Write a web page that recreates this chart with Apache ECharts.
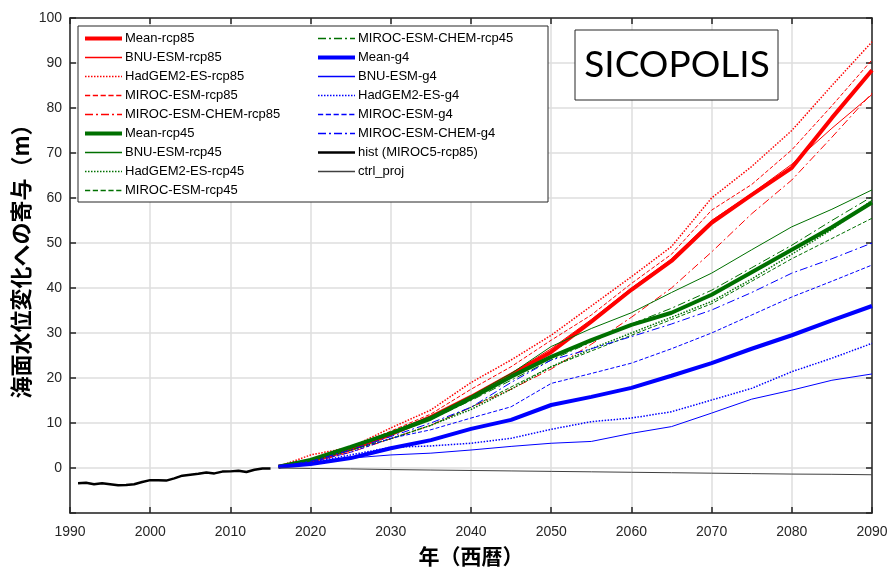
<!DOCTYPE html>
<html lang="ja">
<head>
<meta charset="UTF-8">
<title>SICOPOLIS</title>
<style>
  html, body { margin: 0; padding: 0; background: #fff; }
  #main { width: 890px; height: 567px; }
</style>
</head>
<body>
<div id="main"></div>
<script src="https://cdn.jsdelivr.net/npm/echarts@6/dist/echarts.min.js"></script>
<script>
// years for the projection runs
var futureYears = [2016, 2020, 2025, 2030, 2035, 2040, 2045, 2050, 2055, 2060, 2065, 2070, 2075, 2080, 2085, 2090];

// rcp85
var meanRcp85   = [0.3, 1.5, 4.2, 7.5, 11.3, 15.8, 20.7, 25.8, 32.5, 39.6, 46.0, 54.5, 60.7, 66.7, 77.8, 88.4];
var bnuRcp85    = [0.3, 1.5, 4.0, 7.4, 11.0, 16.0, 21.0, 26.5, 33.0, 40.0, 46.5, 55.0, 61.0, 67.5, 75.5, 83.0];
var hadRcp85    = [0.3, 2.9, 4.6, 8.9, 12.9, 19.0, 24.0, 29.5, 36.0, 42.5, 49.2, 60.0, 67.0, 75.0, 85.0, 94.7];
var mirocRcp85  = [0.3, 2.0, 4.5, 8.2, 12.0, 17.5, 22.5, 28.4, 34.0, 41.0, 47.5, 57.3, 63.0, 70.7, 80.5, 90.7];
var chemRcp85   = [0.3, 1.2, 3.5, 6.5, 9.5, 13.5, 17.5, 22.0, 27.5, 33.5, 40.0, 48.0, 56.5, 64.0, 73.5, 83.3];
// rcp45
var meanRcp45   = [0.3, 1.8, 4.7, 7.7, 11.0, 15.5, 20.3, 24.7, 28.4, 31.8, 34.5, 38.5, 43.5, 48.5, 53.5, 59.0];
var bnuRcp45    = [0.3, 1.8, 4.8, 8.0, 11.5, 16.0, 21.0, 27.0, 31.0, 34.5, 39.0, 43.3, 48.5, 53.6, 57.5, 61.8];
var hadRcp45    = [0.3, 1.5, 4.0, 6.5, 9.5, 13.0, 17.5, 22.5, 26.5, 30.0, 33.5, 37.0, 42.0, 47.5, 53.0, 59.5];
var mirocRcp45  = [0.3, 1.5, 4.0, 6.5, 9.5, 13.5, 18.0, 22.5, 26.0, 29.5, 33.0, 36.5, 41.5, 46.5, 51.0, 55.5];
var chemRcp45   = [0.3, 1.7, 4.5, 7.5, 10.8, 15.0, 19.5, 24.0, 28.0, 32.0, 35.5, 39.5, 44.5, 49.5, 55.0, 60.3];
// g4
var meanG4      = [0.3, 0.9, 2.2, 4.4, 6.2, 8.7, 10.7, 14.0, 15.8, 17.8, 20.5, 23.3, 26.5, 29.5, 32.8, 36.0];
var bnuG4       = [0.3, 0.9, 2.2, 2.9, 3.3, 4.0, 4.8, 5.5, 5.9, 7.7, 9.2, 12.2, 15.3, 17.3, 19.5, 20.9];
var hadG4       = [0.3, 1.2, 2.9, 4.6, 4.9, 5.5, 6.6, 8.6, 10.3, 11.1, 12.5, 15.1, 17.7, 21.4, 24.4, 27.7];
var mirocG4     = [0.3, 1.3, 3.5, 6.6, 8.5, 11.1, 13.6, 18.8, 21.0, 23.3, 26.5, 30.0, 34.0, 38.0, 41.5, 45.1];
var chemG4      = [0.3, 1.5, 4.0, 7.0, 10.0, 13.5, 19.0, 24.0, 26.5, 29.2, 32.0, 35.1, 39.0, 43.3, 46.5, 50.0];
// control run
var ctrlProj    = [0, -0.1, -0.2, -0.35, -0.45, -0.55, -0.65, -0.75, -0.85, -0.95, -1.05, -1.15, -1.25, -1.35, -1.4, -1.5];

// historical run
var histYears = [1991, 1992, 1993, 1994, 1995, 1996, 1997, 1998, 1999, 2000, 2001, 2002, 2003,
                 2004, 2005, 2006, 2007, 2008, 2009, 2010, 2011, 2012, 2013, 2014, 2015];
var histVals  = [-3.4, -3.3, -3.6, -3.4, -3.6, -3.85, -3.8, -3.6, -3.1, -2.7, -2.7, -2.8, -2.3,
                 -1.7, -1.5, -1.3, -1.0, -1.2, -0.8, -0.75, -0.6, -0.9, -0.4, -0.1, -0.1];

var yTicks = [0, 10, 20, 30, 40, 50, 60, 70, 80, 90, 100];

var RED = '#ff0000', GREEN = '#007000', BLUE = '#0000ff';
var dashDot = [8, 3, 2, 3];

function pairs(xs, ys) {
  return xs.map(function (x, i) { return [x, ys[i]]; });
}

function line(name, vals, color, width, type, xs) {
  return {
    name: name,
    type: 'line',
    symbol: 'none',
    animation: false,
    data: pairs(xs || futureYears, vals),
    lineStyle: { color: color, width: width, type: type || 'solid' },
    itemStyle: { color: color }
  };
}

var series = [
  line('Mean-rcp85', meanRcp85, RED, 4),
  line('BNU-ESM-rcp85', bnuRcp85, RED, 1),
  line('HadGEM2-ES-rcp85', hadRcp85, RED, 1.5, 'dotted'),
  line('MIROC-ESM-rcp85', mirocRcp85, RED, 1, 'dashed'),
  line('MIROC-ESM-CHEM-rcp85', chemRcp85, RED, 1, dashDot),
  line('Mean-rcp45', meanRcp45, GREEN, 4),
  line('BNU-ESM-rcp45', bnuRcp45, GREEN, 1),
  line('HadGEM2-ES-rcp45', hadRcp45, GREEN, 1.5, 'dotted'),
  line('MIROC-ESM-rcp45', mirocRcp45, GREEN, 1, 'dashed'),
  line('MIROC-ESM-CHEM-rcp45', chemRcp45, GREEN, 1, dashDot),
  line('Mean-g4', meanG4, BLUE, 4),
  line('BNU-ESM-g4', bnuG4, BLUE, 1),
  line('HadGEM2-ES-g4', hadG4, BLUE, 1.5, 'dotted'),
  line('MIROC-ESM-g4', mirocG4, BLUE, 1, 'dashed'),
  line('MIROC-ESM-CHEM-g4', chemG4, BLUE, 1, dashDot),
  line('hist (MIROC5-rcp85)', histVals, '#000000', 2.5, 'solid', histYears),
  line('ctrl_proj', ctrlProj, '#404040', 1)
];

// legend entries carry the series line style so thick/thin lines show in the key
var legendItems = series.map(function (s) {
  var w = s.lineStyle.width < 1.5 ? 1.3 : s.lineStyle.width;
  return { name: s.name, lineStyle: { width: w, type: s.lineStyle.type, color: s.lineStyle.color } };
});

var legendCommon = {
  orient: 'vertical',
  top: 32,
  padding: 0,
  itemWidth: 37,
  itemHeight: 14,
  itemGap: 6,
  z: 6,
  selectedMode: false,
  itemStyle: { opacity: 0 },
  textStyle: { fontFamily: 'Liberation Sans', fontSize: 13, color: '#000', padding: [0, 0, 0, -2] }
};

var tickColor = '#262626';

var chart = echarts.init(document.getElementById('main'), null, { renderer: 'canvas' });
chart.setOption({
  backgroundColor: '#fff',
  animation: false,
  grid: { left: 70, right: 18, top: 18, bottom: 54, outerBoundsMode: 'none' },
  legend: [
    Object.assign({ left: 83, data: legendItems.slice(0, 9) }, legendCommon),
    Object.assign({ left: 316, data: legendItems.slice(9) }, legendCommon)
  ],
  graphic: [
    {
      type: 'rect', z: 5,
      shape: { x: 78, y: 26, width: 470, height: 176 },
      style: { fill: '#fff', stroke: '#262626', lineWidth: 1 }
    },
    {
      type: 'rect', z: 5,
      shape: { x: 575, y: 30, width: 203, height: 70 },
      style: { fill: '#fff', stroke: '#262626', lineWidth: 1 }
    },
    {
      type: 'text', z: 6, x: 677, y: 65,
      style: {
        text: 'SICOPOLIS', fill: '#000', fontFamily: 'Lato', fontSize: 37,
        align: 'center', verticalAlign: 'middle'
      }
    },
    {
      type: 'text', z: 6, x: 21, y: 256, rotation: Math.PI / 2,
      style: {
        text: '海面水位変化への寄与（m）', fill: '#000', fontFamily: 'Noto Sans CJK JP',
        fontSize: 22, fontWeight: 'bold', align: 'center', verticalAlign: 'middle'
      }
    }
  ],
  xAxis: [
    {
      type: 'value', position: 'bottom', min: 1990, max: 2090, interval: 10,
      name: '年（西暦）', nameLocation: 'middle', nameGap: 33,
      nameTextStyle: { fontFamily: 'Noto Sans CJK JP', fontSize: 21, fontWeight: 'bold', color: '#000' },
      axisLine: { onZero: false, lineStyle: { color: tickColor, width: 1.5 } },
      axisTick: { inside: true, length: 6, lineStyle: { color: tickColor, width: 1.5 } },
      axisLabel: {
        fontFamily: 'Liberation Sans', fontSize: 14, color: tickColor, margin: 12,
        formatter: function (v) { return String(v); }
      },
      splitLine: { show: true, lineStyle: { color: '#dedede', width: 1.5 } }
    },
    {
      type: 'value', position: 'top', min: 1990, max: 2090, interval: 10,
      axisLine: { onZero: false, lineStyle: { color: tickColor, width: 1.5 } },
      axisTick: { inside: true, length: 6, lineStyle: { color: tickColor, width: 1.5 } },
      axisLabel: { show: false },
      splitLine: { show: false }
    }
  ],
  yAxis: [
    {
      type: 'value', position: 'left', min: -10, max: 100, interval: 10,
      axisLine: { onZero: false, lineStyle: { color: tickColor, width: 1.5 } },
      axisTick: { inside: true, length: 6, lineStyle: { color: tickColor, width: 1.5 } },
      axisLabel: {
        fontFamily: 'Liberation Sans', fontSize: 14, color: tickColor, margin: 8,
        formatter: function (v) { return yTicks.indexOf(v) >= 0 ? String(v) : ''; }
      },
      splitLine: { show: true, lineStyle: { color: '#dedede', width: 1.5 } }
    },
    {
      type: 'value', position: 'right', min: -10, max: 100, interval: 10,
      axisLine: { onZero: false, lineStyle: { color: tickColor, width: 1.5 } },
      axisTick: { inside: true, length: 6, lineStyle: { color: tickColor, width: 1.5 } },
      axisLabel: { show: false },
      splitLine: { show: false }
    }
  ],
  series: series
});
</script>
</body>
</html>
